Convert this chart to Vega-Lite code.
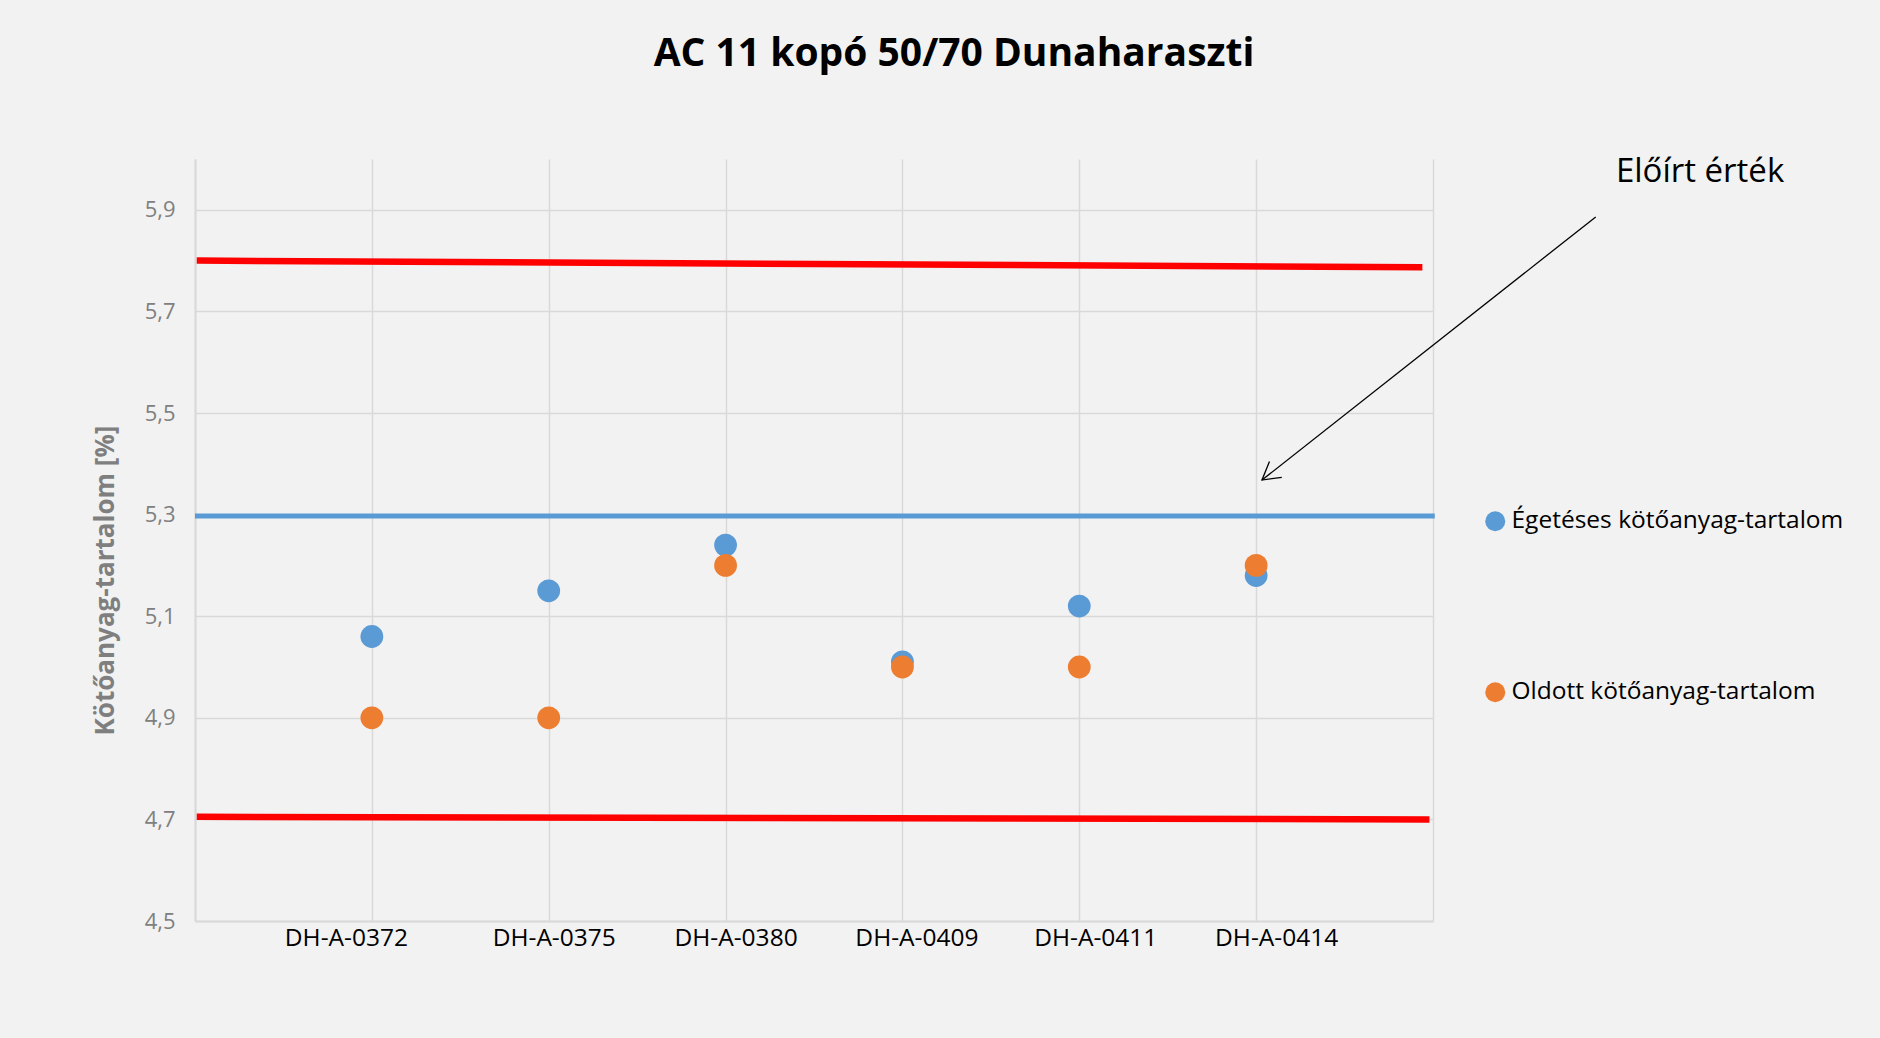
{
  "$schema": "https://vega.github.io/schema/vega-lite/v6.json",
  "width": 1238,
  "height": 762,
  "autosize": {"type": "none"},
  "padding": {"left": 195, "top": 159, "right": 447, "bottom": 117},
  "background": "#f2f2f2",
  "config": {
    "view": {"stroke": null},
    "font": "Open Sans"
  },
  "title": {
    "text": "AC 11 kopó 50/70 Dunaharaszti",
    "font": "Open Sans",
    "fontSize": 39,
    "fontWeight": "bold",
    "color": "#000000",
    "anchor": "middle",
    "offset": 82,
    "dx": 140
  },
  "datasets": {
    "pontok": [
      {"minta": "DH-A-0372", "sorszam": 1, "tipus": "Égetéses kötőanyag-tartalom", "ertek": 5.06},
      {"minta": "DH-A-0375", "sorszam": 2, "tipus": "Égetéses kötőanyag-tartalom", "ertek": 5.15},
      {"minta": "DH-A-0380", "sorszam": 3, "tipus": "Égetéses kötőanyag-tartalom", "ertek": 5.24},
      {"minta": "DH-A-0409", "sorszam": 4, "tipus": "Égetéses kötőanyag-tartalom", "ertek": 5.01},
      {"minta": "DH-A-0411", "sorszam": 5, "tipus": "Égetéses kötőanyag-tartalom", "ertek": 5.12},
      {"minta": "DH-A-0414", "sorszam": 6, "tipus": "Égetéses kötőanyag-tartalom", "ertek": 5.18},
      {"minta": "DH-A-0372", "sorszam": 1, "tipus": "Oldott kötőanyag-tartalom", "ertek": 4.9},
      {"minta": "DH-A-0375", "sorszam": 2, "tipus": "Oldott kötőanyag-tartalom", "ertek": 4.9},
      {"minta": "DH-A-0380", "sorszam": 3, "tipus": "Oldott kötőanyag-tartalom", "ertek": 5.2},
      {"minta": "DH-A-0409", "sorszam": 4, "tipus": "Oldott kötőanyag-tartalom", "ertek": 5.0},
      {"minta": "DH-A-0411", "sorszam": 5, "tipus": "Oldott kötőanyag-tartalom", "ertek": 5.0},
      {"minta": "DH-A-0414", "sorszam": 6, "tipus": "Oldott kötőanyag-tartalom", "ertek": 5.2}
    ],
    "hatarok": [
      {"nev": "felső határ", "x1": 0.01, "x2": 6.94, "y1": 5.8, "y2": 5.787},
      {"nev": "alsó határ", "x1": 0.01, "x2": 6.98, "y1": 4.705, "y2": 4.7}
    ],
    "eloirt": [
      {"nev": "Előírt érték", "x1": 0, "x2": 7.01, "y1": 5.297, "y2": 5.297}
    ],
    "nyil": [
      {"felirat": "Előírt érték", "tx": 8.51, "ty": 5.975, "x1": 7.92, "y1": 5.886, "x2": 6.033, "y2": 5.368}
    ]
  },
  "layer": [
    {
      "data": {"name": "hatarok"},
      "mark": {"type": "rule", "color": "#ff0000", "strokeWidth": 6.5, "strokeCap": "butt"},
      "encoding": {
        "x": {"field": "x1", "type": "quantitative", "scale": {"domain": [0, 7], "nice": false},
          "axis": {
            "values": [0, 1, 2, 3, 4, 5, 6, 7],
            "title": null,
            "grid": true,
            "gridColor": "#d9d9d9",
            "gridWidth": 1.5,
            "domainColor": "#d9d9d9",
            "domainWidth": 2,
            "ticks": false,
            "labelFont": "Open Sans",
            "labelFontSize": 24.5,
            "labelColor": "#000000",
            "labelPadding": 5,
            "labelExpr": "datum.value >= 1 && datum.value <= 6 ? ['DH-A-0372','DH-A-0375','DH-A-0380','DH-A-0409','DH-A-0411','DH-A-0414'][datum.value - 1] : ''",
            "labelOffset": {
              "condition": [
                {"test": "datum.value == 1", "value": -26},
                {"test": "datum.value == 2", "value": 5},
                {"test": "datum.value == 3", "value": 10},
                {"test": "datum.value == 4", "value": 14},
                {"test": "datum.value == 5", "value": 16},
                {"test": "datum.value == 6", "value": 20}
              ],
              "value": 0
            }
          }},
        "x2": {"field": "x2"},
        "y": {"field": "y1", "type": "quantitative", "scale": {"domain": [4.5, 6.0], "nice": false, "zero": false},
          "axis": {
            "values": [4.5, 4.7, 4.9, 5.1, 5.3, 5.5, 5.7, 5.9],
            "title": "Kötőanyag-tartalom [%]",
            "titleFont": "Open Sans",
            "titleFontSize": 26,
            "titleFontWeight": "bold",
            "titleColor": "#7f7f7f",
            "titleAngle": -90,
            "titleX": -90,
            "titleY": 421,
            "titleAlign": "center",
            "titleBaseline": "middle",
            "grid": true,
            "gridColor": "#d9d9d9",
            "gridWidth": 1.5,
            "domainColor": "#d9d9d9",
            "domainWidth": 2,
            "ticks": false,
            "labelFont": "Open Sans",
            "labelFontSize": 22,
            "labelColor": "#808080",
            "labelPadding": 20,
            "labelExpr": "replace(format(datum.value, '.1f'), '.', ',')"
          }},
        "y2": {"field": "y2"}
      }
    },
    {
      "data": {"name": "eloirt"},
      "mark": {"type": "rule", "color": "#5b9bd5", "strokeWidth": 5, "strokeCap": "butt"},
      "encoding": {
        "x": {"field": "x1", "type": "quantitative"},
        "x2": {"field": "x2"},
        "y": {"field": "y1", "type": "quantitative"},
        "y2": {"field": "y2"}
      }
    },
    {
      "data": {"name": "pontok"},
      "mark": {"type": "point", "filled": true, "shape": "circle", "size": 520, "opacity": 1},
      "encoding": {
        "x": {"field": "sorszam", "type": "quantitative"},
        "y": {"field": "ertek", "type": "quantitative"},
        "color": {
          "field": "tipus",
          "type": "nominal",
          "scale": {"domain": ["Égetéses kötőanyag-tartalom", "Oldott kötőanyag-tartalom"], "range": ["#5b9bd5", "#ed7d31"]},
          "legend": {
            "title": null,
            "orient": "none",
            "legendX": 1288,
            "legendY": 350,
            "padding": 0,
            "symbolType": "circle",
            "symbolSize": 400,
            "symbolStrokeWidth": 0,
            "labelFont": "Open Sans",
            "labelFontSize": 24.5,
            "labelColor": "#000000",
            "labelOffset": 4,
            "rowPadding": 146,
            "labelLimit": 500
          }
        }
      }
    },
    {
      "data": {"name": "nyil"},
      "mark": {"type": "rule", "color": "#000000", "strokeWidth": 1.3},
      "encoding": {
        "x": {"field": "x1", "type": "quantitative"},
        "x2": {"field": "x2"},
        "y": {"field": "y1", "type": "quantitative"},
        "y2": {"field": "y2"}
      }
    },
    {
      "data": {"name": "nyil"},
      "mark": {"type": "point", "shape": "M-0.5,0.866L0,0L0.5,0.866", "filled": false, "stroke": "#000000", "strokeWidth": 1.3, "size": 1600, "angle": 232, "opacity": 1},
      "encoding": {
        "x": {"field": "x2", "type": "quantitative"},
        "y": {"field": "y2", "type": "quantitative"}
      }
    },
    {
      "data": {"name": "nyil"},
      "mark": {"type": "text", "font": "Open Sans", "fontSize": 33, "color": "#000000", "align": "center", "baseline": "middle"},
      "encoding": {
        "x": {"field": "tx", "type": "quantitative"},
        "y": {"field": "ty", "type": "quantitative"},
        "text": {"field": "felirat"}
      }
    }
  ]
}
